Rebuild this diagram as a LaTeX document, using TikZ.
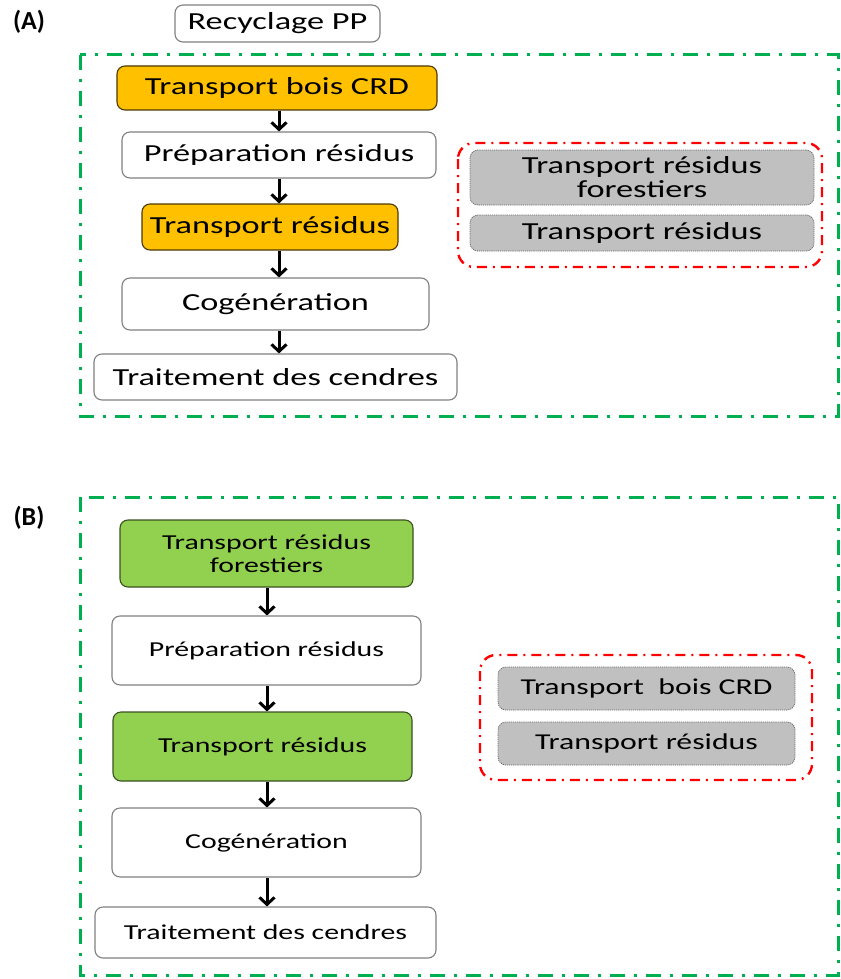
\documentclass[tikz,border=0pt]{standalone}
\usepackage{fontspec}
\setmainfont{Carlito}[FakeStretch=1.4]
\newfontfamily\tagfont{Carlito}
\usetikzlibrary{arrows.meta}
\definecolor{frgreen}{HTML}{00B050}
\definecolor{frred}{HTML}{FF0000}
\definecolor{boxorange}{HTML}{FFC000}
\definecolor{boxgreen}{HTML}{92D050}
\definecolor{boxgray}{HTML}{C0C0C0}
\definecolor{edgegray}{HTML}{808080}
\tikzset{
  stage/.style={draw=edgegray, line width=1.1pt, rounded corners=8pt, fill=white,
    align=center, inner sep=0pt, font=\fontsize{24.5}{27}\selectfont},
  small/.style={font=\fontsize{21.3}{24.5}\selectfont},
  hot/.style={stage, fill=boxorange, draw=black!70!boxorange},
  wood/.style={stage, fill=boxgreen, draw=black!60!boxgreen},
  alt/.style={stage, fill=boxgray, draw=black!60, densely dotted, line width=0.8pt},
  flow/.style={line width=3pt, -{Straight Barb[length=7pt,width=15pt]}},
  outer/.style={draw=frgreen, line width=3pt, dash pattern=on 15pt off 9pt on 3pt off 9pt},
  inner/.style={draw=frred, line width=2.4pt, rounded corners=16pt, dash pattern=on 10pt off 6pt on 2pt off 6pt},
  tag/.style={font=\tagfont\bfseries\fontsize{26}{28}\selectfont}
}
\begin{document}
\begin{tikzpicture}[x=1pt,y=-1pt]
\useasboundingbox (0,0) rectangle (840,979);

% ---- scenario (A) ----
\node[tag] (labA) at (29,22) {(A)};
\node[stage, minimum width=205pt, minimum height=37pt] (recyc) at (277.5,23.5) {Recyclage PP};
\draw[outer] (80,55) rectangle (838,416);

\node[hot, minimum width=320pt, minimum height=44pt] (a1) at (277,88) {Transport bois CRD};
\node[stage, minimum width=314pt, minimum height=46pt] (a2) at (279,155) {Préparation résidus};
\node[hot, minimum width=256pt, minimum height=46pt] (a3) at (270,227) {Transport résidus};
\node[stage, minimum width=307pt, minimum height=52pt] (a4) at (275.5,304) {Cogénération};
\node[stage, minimum width=363pt, minimum height=46pt] (a5) at (275.5,377) {Traitement des cendres};

\coordinate (ax) at (279,0);
\draw[flow] (a1.south -| ax) -- (a2.north -| ax);
\draw[flow] (a2.south -| ax) -- (a3.north -| ax);
\draw[flow] (a3.south -| ax) -- (a4.north -| ax);
\draw[flow] (a4.south -| ax) -- (a5.north -| ax);

\draw[inner] (458,143) rectangle (822,267);
\node[alt, minimum width=344pt, minimum height=55pt] (ga1) at (642,177.5) {Transport résidus\\[-3pt]forestiers};
\node[alt, minimum width=344pt, minimum height=36pt] (ga2) at (642,233) {Transport résidus};

% ---- scenario (B) ----
\node[tag] (labB) at (29,518) {(B)};
\draw[outer] (80,497) rectangle (838,975);

\node[wood, small, minimum width=293pt, minimum height=67pt] (b1) at (266.5,553.5) {Transport résidus\\[-2pt]forestiers};
\node[stage, small, minimum width=309pt, minimum height=69pt] (b2) at (266.5,650.5) {Préparation résidus};
\node[wood, small, minimum width=299pt, minimum height=69pt] (b3) at (262.5,746.5) {Transport résidus};
\node[stage, small, minimum width=309pt, minimum height=69pt] (b4) at (266.5,842.5) {Cogénération};
\node[stage, small, minimum width=341pt, minimum height=51pt] (b5) at (265.5,932.5) {Traitement des cendres};

\coordinate (bx) at (267,0);
\draw[flow] (b1.south -| bx) -- (b2.north -| bx);
\draw[flow] (b2.south -| bx) -- (b3.north -| bx);
\draw[flow] (b3.south -| bx) -- (b4.north -| bx);
\draw[flow] (b4.south -| bx) -- (b5.north -| bx);

\draw[inner] (480,655) rectangle (812,780);
\node[alt, font=\fontsize{22.7}{25}\selectfont, minimum width=297pt, minimum height=43pt] (gb1) at (646.5,688.5) {Transport~ bois CRD};
\node[alt, font=\fontsize{22.7}{25}\selectfont, minimum width=297pt, minimum height=43pt] (gb2) at (646.5,743.5) {Transport résidus};
\end{tikzpicture}
\end{document}
